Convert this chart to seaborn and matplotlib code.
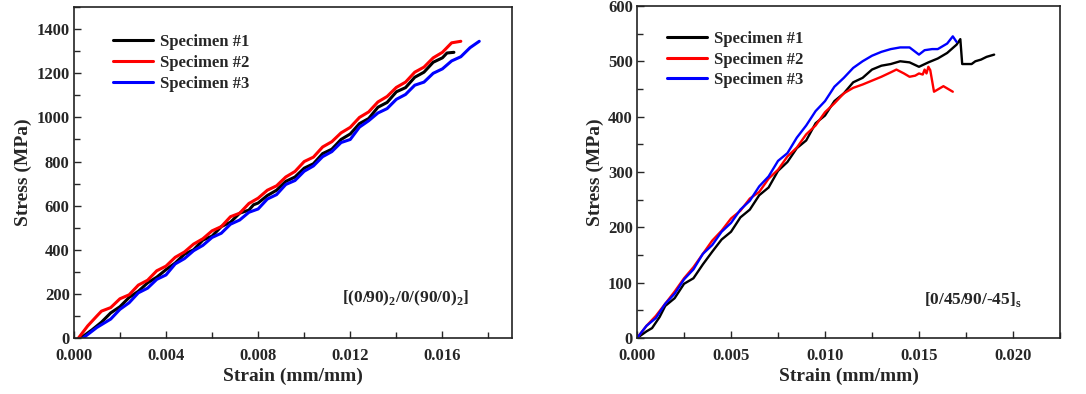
import numpy as np
import pandas as pd
import matplotlib
matplotlib.use('Agg')
import matplotlib.pyplot as plt
from matplotlib.ticker import MultipleLocator, FormatStrFormatter
import seaborn as sns

# ---- left panel: [(0/90)2/0/(90/0)2] ----
a_s1_x = [0.0003, 0.0008, 0.0012, 0.0016, 0.0020, 0.0024, 0.0028, 0.0032, 0.0036, 0.0040,
          0.0044, 0.0048, 0.0052, 0.0056, 0.0060, 0.0064, 0.0068, 0.0072, 0.0076, 0.0078,
          0.0080, 0.0084, 0.0088, 0.0092, 0.0096, 0.0100, 0.0104, 0.0108, 0.0112, 0.0116,
          0.0120, 0.0124, 0.0128, 0.0132, 0.0136, 0.0140, 0.0144, 0.0148, 0.0152, 0.0156,
          0.0160, 0.0162, 0.0165]
a_s1_y = [0, 38, 72, 114, 142, 184, 212, 250, 276, 310,
          340, 380, 400, 444, 462, 505, 525, 566, 580, 604,
          612, 646, 670, 710, 730, 770, 790, 836, 856, 900,
          925, 972, 995, 1046, 1068, 1116, 1135, 1182, 1205, 1250,
          1270, 1292, 1295]
a_s2_x = [0.0002, 0.0006, 0.0010, 0.0012, 0.0016, 0.0020, 0.0024, 0.0028, 0.0032, 0.0036,
          0.0040, 0.0044, 0.0048, 0.0052, 0.0056, 0.0060, 0.0064, 0.0068, 0.0072, 0.0076,
          0.0080, 0.0084, 0.0088, 0.0092, 0.0096, 0.0100, 0.0104, 0.0108, 0.0112, 0.0116,
          0.0120, 0.0124, 0.0128, 0.0132, 0.0136, 0.0140, 0.0144, 0.0148, 0.0152, 0.0156,
          0.0160, 0.0164, 0.0168]
a_s2_y = [0, 55, 100, 122, 138, 178, 196, 240, 262, 305,
          326, 366, 390, 426, 450, 486, 505, 550, 566, 610,
          634, 670, 690, 730, 755, 800, 820, 866, 890, 930,
          955, 1000, 1025, 1070, 1095, 1136, 1160, 1205, 1228, 1270,
          1295, 1338, 1345]
a_s3_x = [0.0004, 0.0010, 0.0016, 0.0020, 0.0024, 0.0028, 0.0032, 0.0036, 0.0040, 0.0044,
          0.0048, 0.0052, 0.0056, 0.0060, 0.0064, 0.0068, 0.0072, 0.0076, 0.0080, 0.0084,
          0.0088, 0.0092, 0.0096, 0.0100, 0.0104, 0.0108, 0.0112, 0.0116, 0.0120, 0.0124,
          0.0128, 0.0132, 0.0136, 0.0140, 0.0144, 0.0148, 0.0152, 0.0156, 0.0160, 0.0164,
          0.0168, 0.0172, 0.0176]
a_s3_y = [0, 48, 86, 130, 160, 205, 226, 266, 286, 336,
          360, 396, 420, 456, 475, 516, 535, 570, 585, 630,
          650, 696, 714, 756, 780, 822, 845, 886, 900, 956,
          985, 1020, 1040, 1082, 1104, 1146, 1160, 1200, 1220, 1256,
          1275, 1316, 1345]

# ---- right panel: [0/45/90/-45]s ----
b_s1_x = [0.0000, 0.0005, 0.0008, 0.0010, 0.0012, 0.0015, 0.0020, 0.0025, 0.0030, 0.0035,
          0.0040, 0.0045, 0.0050, 0.0055, 0.0060, 0.0065, 0.0070, 0.0075, 0.0080, 0.0085,
          0.0090, 0.0095, 0.0100, 0.0105, 0.0110, 0.0115, 0.0120, 0.0125, 0.0130, 0.0135,
          0.0140, 0.0145, 0.0150, 0.0155, 0.0160, 0.0165, 0.0170, 0.0172, 0.0173, 0.0178,
          0.0180, 0.0183, 0.0186, 0.0190]
b_s1_y = [0, 12, 18, 28, 38, 58, 72, 98, 108, 133,
          156, 178, 192, 218, 232, 258, 272, 302, 318, 343,
          357, 388, 402, 428, 442, 462, 470, 485, 492, 495,
          500, 498, 490, 498, 505, 515, 530, 540, 495, 495,
          500, 503, 508, 512]
b_s2_x = [0.0000, 0.0005, 0.0010, 0.0015, 0.0020, 0.0025, 0.0030, 0.0035, 0.0040, 0.0045,
          0.0050, 0.0055, 0.0060, 0.0065, 0.0070, 0.0075, 0.0080, 0.0085, 0.0090, 0.0095,
          0.0100, 0.0105, 0.0110, 0.0115, 0.0120, 0.0125, 0.0130, 0.0135, 0.0138, 0.0142,
          0.0145, 0.0148, 0.0150, 0.0152, 0.0153, 0.0154, 0.0155, 0.0156, 0.0158, 0.0163,
          0.0168]
b_s2_y = [0, 22, 40, 62, 84, 108, 128, 152, 176, 194,
          216, 230, 252, 264, 288, 304, 328, 344, 368, 384,
          408, 424, 442, 452, 458, 465, 472, 480, 485, 478,
          472, 474, 478, 476, 485, 478, 490, 484, 445, 455,
          445]
b_s3_x = [0.0000, 0.0005, 0.0010, 0.0015, 0.0020, 0.0025, 0.0030, 0.0035, 0.0040, 0.0045,
          0.0050, 0.0055, 0.0060, 0.0065, 0.0070, 0.0075, 0.0080, 0.0085, 0.0090, 0.0095,
          0.0100, 0.0105, 0.0110, 0.0115, 0.0120, 0.0125, 0.0130, 0.0135, 0.0140, 0.0145,
          0.0150, 0.0153, 0.0157, 0.0160, 0.0165, 0.0168, 0.0170]
b_s3_y = [0, 22, 36, 62, 80, 106, 124, 152, 168, 192,
          208, 232, 248, 274, 292, 320, 334, 362, 384, 410,
          428, 454, 470, 488, 500, 510, 517, 522, 525, 525,
          512, 520, 522, 522, 532, 545, 535]

names = ['Specimen #1', 'Specimen #2', 'Specimen #3']
colors = ['#000000', '#ff0000', '#0000ff']


def make_df(xs, ys):
    rows = []
    for n, x, y in zip(names, xs, ys):
        rows.append(pd.DataFrame({'strain': x, 'stress': y, 'spec': n}))
    return pd.concat(rows, ignore_index=True)


df_a = make_df([a_s1_x, a_s2_x, a_s3_x], [a_s1_y, a_s2_y, a_s3_y])
df_b = make_df([b_s1_x, b_s2_x, b_s3_x], [b_s1_y, b_s2_y, b_s3_y])

sns.set_style('ticks')
plt.rcParams['font.family'] = ['Liberation Serif', 'DejaVu Serif']
plt.rcParams['font.weight'] = 'bold'
plt.rcParams['mathtext.fontset'] = 'custom'
plt.rcParams['mathtext.rm'] = 'Liberation Serif:bold'
plt.rcParams['mathtext.bf'] = 'Liberation Serif:bold'

fig = plt.figure(figsize=(10.86, 3.94), dpi=100)
ax1 = fig.add_axes([0.068, 0.142, 0.403, 0.840])
ax2 = fig.add_axes([0.5866, 0.142, 0.3894, 0.843])

pal = dict(zip(names, colors))
sns.lineplot(data=df_a, x='strain', y='stress', hue='spec', palette=pal, sort=False,
             estimator=None, lw=2.2, ax=ax1)
sns.lineplot(data=df_b, x='strain', y='stress', hue='spec', palette=pal, sort=False,
             estimator=None, lw=1.7, ax=ax2)

ax1.set_xlim(0, 0.019)
ax1.set_ylim(0, 1500)
ax1.xaxis.set_major_locator(MultipleLocator(0.004))
ax1.xaxis.set_minor_locator(MultipleLocator(0.002))
ax1.yaxis.set_major_locator(MultipleLocator(200))
ax1.yaxis.set_minor_locator(MultipleLocator(100))
ax1.xaxis.set_major_formatter(FormatStrFormatter('%.3f'))

ax2.set_xlim(0, 0.0225)
ax2.set_ylim(0, 600)
ax2.xaxis.set_major_locator(MultipleLocator(0.005))
ax2.xaxis.set_minor_locator(MultipleLocator(0.0025))
ax2.yaxis.set_major_locator(MultipleLocator(100))
ax2.yaxis.set_minor_locator(MultipleLocator(50))
ax2.xaxis.set_major_formatter(FormatStrFormatter('%.3f'))

for ax in (ax1, ax2):
    ax.set_xlabel('Strain (mm/mm)', fontsize=14, fontweight='bold', labelpad=3)
    ax.set_ylabel('Stress (MPa)', fontsize=14, fontweight='bold', labelpad=3)
    ax.tick_params(which='both', direction='in', top=False, right=False,
                   labelsize=12, width=1.0)
    ax.tick_params(axis='x', which='major', pad=7)
    ax.tick_params(axis='y', which='major', pad=3)
    ax.tick_params(which='major', length=5)
    ax.tick_params(which='minor', length=4)
    for lab in ax.get_xticklabels() + ax.get_yticklabels():
        lab.set_fontweight('bold')
    for sp in ax.spines.values():
        sp.set_linewidth(1.2)
        sp.set_color('#222222')

leg1 = ax1.legend(loc='upper left', bbox_to_anchor=(0.063, 0.955), frameon=False,
                  fontsize=12, handlelength=2.4, handletextpad=0.4, labelspacing=0.32,
                  borderpad=0.2)
leg2 = ax2.legend(loc='upper left', bbox_to_anchor=(0.043, 0.96), frameon=False,
                  fontsize=12, handlelength=2.4, handletextpad=0.4, labelspacing=0.28,
                  borderpad=0.2)
for leg in (leg1, leg2):
    for t in leg.get_texts():
        t.set_fontweight('bold')
    for h in leg.get_lines():
        h.set_linewidth(2.2)

ax1.text(0.904, 0.12, r'[(0/90)$_{\mathbf{2}}$/0/(90/0)$_{\mathbf{2}}$]', transform=ax1.transAxes,
         ha='right', va='center', fontsize=12.5, fontweight='bold')
ax2.text(0.91, 0.115, r'[0/45/90/-45]$_{\mathbf{s}}$', transform=ax2.transAxes,
         ha='right', va='center', fontsize=12.5, fontweight='bold')

fig.savefig('out.png', dpi=100)
